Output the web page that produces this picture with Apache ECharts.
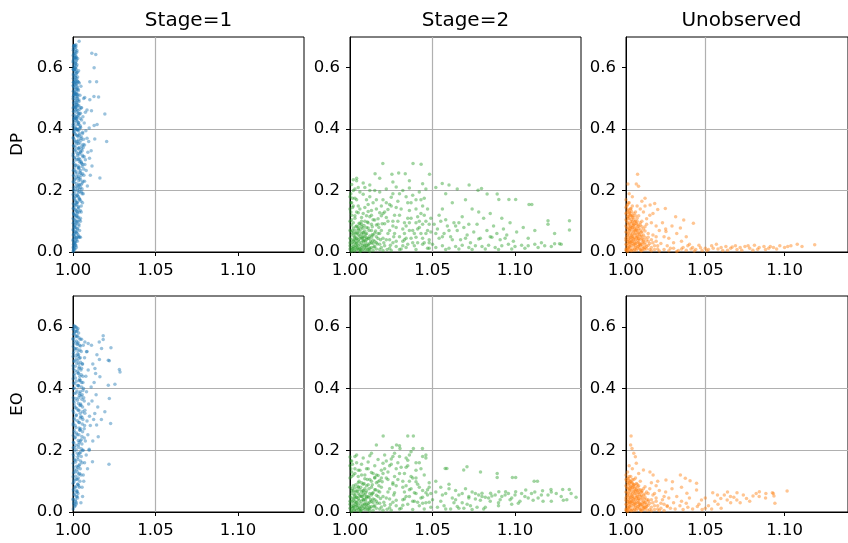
<!DOCTYPE html>
<html><head><meta charset="utf-8">
<script src="https://cdn.jsdelivr.net/npm/echarts@6/dist/echarts.min.js"></script>
<style>html,body{margin:0;padding:0;background:#fff}#c{width:848px;height:543px}</style>
</head><body><div id="c"></div>
<script>
const colTitles = ['Stage=1', 'Stage=2', 'Unobserved'];
const rowLabels = ['DP', 'EO'];
const xTicks = [1.00, 1.05, 1.10];
const yTicks = [0.0, 0.2, 0.4, 0.6];

const dpStage1 = [
[1.0003,0.004],[1.0008,0.010],[1.0002,0.016],[1.0012,0.022],[1.0005,0.028],[1.0015,0.034],[1.0001,0.040],[1.0020,0.046],[1.0035,0.048],[1.0040,0.049],[1.0045,0.048],[1.0010,0.052],[1.0006,0.058],[1.0018,0.064],[1.0003,0.070],[1.0025,0.076],[1.0009,0.082],[1.0014,0.088],[1.0002,0.094],[1.0022,0.100],[1.0007,0.106],[1.0030,0.112],[1.0011,0.118],[1.0004,0.124],[1.0026,0.130],[1.0016,0.136],[1.0001,0.142],[1.0033,0.148],[1.0008,0.154],[1.0020,0.160],[1.0013,0.166],[1.0038,0.172],[1.0005,0.178],[1.0024,0.184],[1.0010,0.190],[1.0042,0.196],[1.0002,0.202],[1.0029,0.208],[1.0017,0.214],[1.0050,0.220],[1.0007,0.226],[1.0035,0.232],[1.0012,0.238],[1.0023,0.244],[1.0003,0.250],[1.0046,0.256],[1.0019,0.262],[1.0009,0.268],[1.0031,0.274],[1.0055,0.278],[1.0014,0.282],[1.0004,0.288],[1.0039,0.294],[1.0021,0.300],[1.0008,0.306],[1.0060,0.310],[1.0027,0.314],[1.0002,0.320],[1.0044,0.326],[1.0015,0.332],[1.0033,0.338],[1.0006,0.344],[1.0070,0.348],[1.0022,0.352],[1.0010,0.358],[1.0048,0.364],[1.0003,0.370],[1.0030,0.376],[1.0016,0.382],[1.0058,0.386],[1.0007,0.392],[1.0025,0.398],[1.0040,0.404],[1.0012,0.410],[1.0002,0.416],[1.0034,0.422],[1.0019,0.428],[1.0006,0.434],[1.0028,0.440],[1.0011,0.446],[1.0045,0.452],[1.0003,0.458],[1.0022,0.464],[1.0014,0.470],[1.0036,0.476],[1.0005,0.482],[1.0018,0.488],[1.0027,0.494],[1.0009,0.500],[1.0002,0.506],[1.0030,0.512],[1.0013,0.518],[1.0006,0.524],[1.0024,0.530],[1.0010,0.536],[1.0003,0.542],[1.0020,0.548],[1.0032,0.553],[1.0008,0.560],[1.0015,0.568],[1.0002,0.576],[1.0022,0.584],[1.0007,0.592],[1.0012,0.598],[1.0004,0.606],[1.0016,0.614],[1.0001,0.622],[1.0010,0.630],[1.0020,0.636],[1.0005,0.644],[1.0013,0.652],[1.0003,0.662],[1.0008,0.672],[1.0018,0.675],
[1.0001,0.002],[1.0004,0.007],[1.0002,0.013],[1.0006,0.019],[1.0003,0.025],[1.0009,0.031],[1.0001,0.037],[1.0005,0.043],[1.0011,0.049],[1.0002,0.055],[1.0007,0.061],[1.0013,0.067],[1.0001,0.073],[1.0010,0.079],[1.0004,0.085],[1.0016,0.091],[1.0006,0.097],[1.0012,0.103],[1.0001,0.109],[1.0019,0.115],[1.0008,0.121],[1.0003,0.127],[1.0021,0.133],[1.0010,0.139],[1.0005,0.145],[1.0015,0.151],[1.0002,0.157],[1.0027,0.163],[1.0012,0.169],[1.0006,0.175],[1.0018,0.181],[1.0001,0.187],[1.0032,0.193],[1.0009,0.199],[1.0014,0.205],[1.0004,0.211],[1.0038,0.217],[1.0020,0.223],[1.0001,0.229],[1.0011,0.235],[1.0043,0.241],[1.0006,0.247],[1.0026,0.253],[1.0013,0.259],[1.0002,0.265],[1.0036,0.271],[1.0008,0.277],[1.0017,0.283],[1.0051,0.289],[1.0005,0.295],[1.0030,0.301],[1.0011,0.307],[1.0001,0.313],[1.0040,0.319],[1.0021,0.325],[1.0007,0.331],[1.0053,0.335],[1.0014,0.341],[1.0003,0.347],[1.0032,0.353],[1.0019,0.359],[1.0009,0.365],[1.0064,0.367],[1.0002,0.373],[1.0025,0.379],[1.0012,0.385],[1.0005,0.391],[1.0036,0.397],[1.0017,0.403],[1.0001,0.409],[1.0029,0.415],[1.0008,0.421],[1.0004,0.427],[1.0023,0.433],[1.0014,0.439],[1.0002,0.445],[1.0032,0.451],[1.0007,0.457],[1.0016,0.463],[1.0001,0.469],[1.0011,0.475],[1.0025,0.481],[1.0004,0.487],[1.0013,0.493],[1.0001,0.499],[1.0020,0.505],[1.0006,0.511],[1.0010,0.517],[1.0002,0.523],[1.0017,0.529],[1.0005,0.535],[1.0001,0.541],[1.0012,0.547],[1.0004,0.553],[1.0026,0.557],[1.0002,0.565],[1.0009,0.572],[1.0003,0.580],[1.0014,0.588],[1.0001,0.595],[1.0006,0.600],[1.0010,0.610],[1.0002,0.618],[1.0004,0.626],[1.0013,0.633],[1.0001,0.640],[1.0006,0.648],[1.0002,0.657],[1.0011,0.666],[1.0004,0.670],
[1.0005,0.672],[1.0012,0.672],[1.0005,0.632],[1.0012,0.633],[1.0020,0.632],[1.0004,0.594],[1.0011,0.594],[1.0019,0.595],[1.0003,0.553],[1.0010,0.553],[1.0017,0.554],[1.0004,0.512],[1.0011,0.512],[1.0018,0.513],[1.0025,0.512],[1.0006,0.472],[1.0014,0.472],[1.0021,0.473],[1.0005,0.435],[1.0013,0.436],[1.0020,0.435],[1.0008,0.400],[1.0015,0.401],[1.0024,0.400],
[1.0062,0.190],[1.0070,0.230],[1.0055,0.205],[1.0080,0.265],[1.0066,0.250],[1.0075,0.300],[1.0090,0.325],[1.0062,0.340],[1.0085,0.370],[1.0095,0.360],[1.0078,0.395],[1.0068,0.420],[1.0058,0.160],[1.0050,0.130],[1.0045,0.100],[1.0072,0.285],[1.0100,0.305],[1.0110,0.330],[1.0087,0.215],[1.0052,0.470],[1.0065,0.500],[1.0060,0.440],[1.0075,0.455],[1.0048,0.540],
[1.0037,0.686],[1.0114,0.647],[1.0138,0.643],[1.0128,0.600],[1.0102,0.554],[1.0143,0.554],[1.0071,0.503],[1.0102,0.496],[1.0127,0.506],[1.0155,0.505],[1.0085,0.462],[1.0112,0.460],[1.0193,0.449],[1.0098,0.404],[1.0128,0.412],[1.0146,0.415],[1.0132,0.368],[1.0204,0.360],[1.0163,0.241],[1.0115,0.280],[1.0105,0.250]
];
const dpStage1Core = [
[1.0012,0.01],[1.0018,0.02],[1.0010,0.03],[1.0022,0.04],[1.0030,0.05],[1.0025,0.06],[1.0040,0.07],[1.0015,0.08],[1.0035,0.09],[1.0028,0.10],[1.0045,0.11],[1.0020,0.12],[1.0038,0.13],[1.0030,0.14],[1.0050,0.15],[1.0025,0.16],[1.0042,0.17],[1.0033,0.18],[1.0055,0.19],[1.0028,0.20],[1.0046,0.21],[1.0036,0.22],[1.0060,0.23],[1.0030,0.24],[1.0050,0.25],[1.0040,0.26],[1.0065,0.27],[1.0032,0.28],[1.0052,0.29],[1.0042,0.30],[1.0068,0.31],[1.0030,0.32],[1.0055,0.33],[1.0038,0.34],[1.0062,0.35],[1.0028,0.36],[1.0048,0.37],[1.0036,0.38],[1.0058,0.39],[1.0025,0.40],[1.0045,0.41],[1.0032,0.42],[1.0052,0.43],[1.0022,0.44],[1.0040,0.45],[1.0030,0.46],[1.0048,0.47],[1.0020,0.48],[1.0036,0.49],[1.0026,0.50],[1.0042,0.51],[1.0018,0.52],[1.0032,0.53],[1.0024,0.54],[1.0038,0.55],[1.0016,0.56],[1.0028,0.57],[1.0020,0.58],[1.0034,0.59],[1.0014,0.60],[1.0024,0.61],[1.0018,0.62],[1.0028,0.63],[1.0012,0.64],[1.0022,0.65],[1.0016,0.66],
[1.0020,0.015],[1.0014,0.025],[1.0026,0.035],[1.0018,0.045],[1.0032,0.055],[1.0022,0.065],[1.0028,0.075],[1.0036,0.085],[1.0024,0.095],[1.0040,0.105],[1.0030,0.115],[1.0026,0.125],[1.0044,0.135],[1.0034,0.145],[1.0022,0.155],[1.0048,0.165],[1.0038,0.175],[1.0026,0.185],[1.0052,0.195],[1.0040,0.205],[1.0030,0.215],[1.0056,0.225],[1.0044,0.235],[1.0034,0.245],[1.0058,0.255],[1.0046,0.265],[1.0036,0.275],[1.0060,0.285],[1.0048,0.295],[1.0036,0.305],[1.0058,0.315],[1.0046,0.325],[1.0034,0.335],[1.0054,0.345],[1.0042,0.355],[1.0032,0.365],[1.0050,0.375],[1.0040,0.385],[1.0030,0.395],[1.0046,0.405],[1.0036,0.415],[1.0026,0.425],[1.0044,0.435],[1.0034,0.445],[1.0024,0.455],[1.0040,0.465],[1.0030,0.475],[1.0022,0.485],[1.0036,0.495],[1.0028,0.505],[1.0020,0.515],[1.0032,0.525],[1.0026,0.535],[1.0018,0.545],[1.0030,0.555],[1.0022,0.565],[1.0016,0.575],[1.0026,0.585],[1.0020,0.605],[1.0014,0.615],[1.0022,0.625],[1.0016,0.645],[1.0024,0.655],[1.0018,0.668]
];

const dpStage2 = [
[1.001,0.005],[1.002,0.012],[1.000,0.020],[1.003,0.003],[1.004,0.018],[1.001,0.030],[1.005,0.008],[1.006,0.025],[1.002,0.040],[1.007,0.015],[1.008,0.035],[1.003,0.050],[1.009,0.005],[1.010,0.022],[1.004,0.062],[1.011,0.045],[1.012,0.012],[1.005,0.072],[1.013,0.030],[1.014,0.055],[1.006,0.045],[1.015,0.018],[1.001,0.065],[1.007,0.058],[1.008,0.010],[1.009,0.068],[1.010,0.040],[1.011,0.078],[1.012,0.028],[1.002,0.078],[1.000,0.045],[1.003,0.032],[1.004,0.008],[1.005,0.038],[1.006,0.002],[1.007,0.030],[1.008,0.050],[1.009,0.020],[1.010,0.060],[1.011,0.008],[1.012,0.052],[1.013,0.070],[1.014,0.038],[1.015,0.062],[1.016,0.010],[1.017,0.044],[1.018,0.025],[1.019,0.070],[1.020,0.005],[1.002,0.025],[1.001,0.055],[1.000,0.010],[1.003,0.070],[1.004,0.042],[1.005,0.020],[1.006,0.065],[1.007,0.005],[1.008,0.078],[1.009,0.038],[1.010,0.014],[1.001,0.088],[1.002,0.095],[1.004,0.085],[1.006,0.092],[1.003,0.015],[1.005,0.055],[1.007,0.045],[1.012,0.002],[1.013,0.015],[1.014,0.005],[1.016,0.030],[1.018,0.008],[1.021,0.020],[1.022,0.040],[1.024,0.012],[1.026,0.030],[1.023,0.060],[1.025,0.005],[1.028,0.018],[1.030,0.008],[1.000,0.030],[1.000,0.070],[1.001,0.015],[1.002,0.060],[1.003,0.040],[1.004,0.028],[1.005,0.082],[1.006,0.012],[1.008,0.062],[1.009,0.050],[1.011,0.025],[1.013,0.048],[1.015,0.035],[1.017,0.060],[1.019,0.015],[1.020,0.045],
[1.000,0.100],[1.001,0.120],[1.000,0.140],[1.001,0.160],[1.000,0.180],[1.002,0.200],[1.001,0.220],[1.002,0.235],[1.004,0.232],[1.003,0.110],[1.004,0.130],[1.005,0.150],[1.003,0.175],[1.006,0.195],[1.005,0.210],[1.007,0.100],[1.008,0.125],[1.009,0.145],[1.010,0.170],[1.008,0.188],[1.011,0.095],[1.012,0.115],[1.013,0.135],[1.014,0.160],[1.012,0.180],[1.015,0.200],[1.016,0.088],[1.017,0.108],[1.018,0.128],[1.019,0.150],[1.020,0.170],[1.018,0.195],[1.021,0.092],[1.022,0.112],[1.023,0.138],[1.024,0.155],[1.025,0.178],[1.022,0.205],[1.026,0.100],[1.027,0.120],[1.028,0.145],[1.029,0.165],[1.030,0.190],[1.028,0.212],[1.006,0.140],[1.010,0.118],[1.014,0.105],[1.002,0.150],[1.009,0.210],[1.016,0.140],[1.004,0.170],[1.007,0.082],[1.011,0.155],[1.013,0.090],[1.019,0.118],[1.003,0.205],
[1.031,0.010],[1.032,0.035],[1.033,0.060],[1.034,0.085],[1.035,0.110],[1.036,0.135],[1.037,0.160],[1.038,0.185],[1.039,0.020],[1.040,0.048],[1.041,0.075],[1.042,0.100],[1.043,0.125],[1.044,0.150],[1.045,0.175],[1.046,0.205],[1.047,0.012],[1.048,0.040],[1.049,0.065],[1.035,0.025],[1.038,0.070],[1.041,0.115],[1.044,0.090],[1.047,0.140],[1.032,0.200],[1.036,0.208],[1.042,0.195],[1.030,0.050],[1.033,0.095],[1.045,0.030],[1.040,0.008],[1.043,0.060],[1.037,0.045],[1.034,0.015],[1.048,0.012],[1.046,0.100],
[1.051,0.090],[1.053,0.075],[1.055,0.100],[1.057,0.060],[1.059,0.085],[1.061,0.050],[1.063,0.095],[1.065,0.070],[1.067,0.040],[1.069,0.080],[1.071,0.055],[1.073,0.030],[1.075,0.065],[1.077,0.090],[1.079,0.045],[1.081,0.110],[1.083,0.070],[1.085,0.050],[1.087,0.085],[1.089,0.060],[1.091,0.040],[1.093,0.075],[1.095,0.055],[1.097,0.095],[1.099,0.035],[1.101,0.065],[1.105,0.080],[1.108,0.045],[1.112,0.070],[1.116,0.030],[1.120,0.102],[1.124,0.060],[1.127,0.027],[1.133,0.102],[1.133,0.072],[1.120,0.090],
[1.052,0.015],[1.056,0.020],[1.060,0.012],[1.064,0.018],[1.068,0.022],[1.072,0.015],[1.076,0.020],[1.080,0.018],[1.084,0.022],[1.088,0.015],[1.092,0.020],[1.096,0.025],[1.100,0.018],[1.104,0.022],[1.108,0.020],[1.112,0.025],[1.118,0.020],[1.124,0.027],[1.128,0.025],[1.054,0.045],[1.062,0.040],[1.070,0.045],[1.078,0.042],[1.086,0.048],[1.094,0.045],
[1.0797,0.207],[1.0776,0.201],[1.0831,0.189],[1.0892,0.189],[1.0902,0.171],[1.0963,0.171],[1.1004,0.171],[1.1085,0.155],[1.1102,0.155],[1.0559,0.223],[1.0600,0.218],[1.0722,0.218],[1.065,0.205],[1.052,0.210],[1.058,0.190],[1.070,0.170],[1.062,0.160],[1.074,0.140],[1.085,0.125],[1.068,0.115],[1.056,0.140],[1.092,0.110],[1.078,0.130],
[1.0199,0.288],[1.0382,0.288],[1.0431,0.286],[1.0152,0.255],[1.0254,0.253],[1.0295,0.257],[1.0335,0.255],[1.0482,0.253],[1.008,0.225],[1.012,0.218],[1.018,0.240],[1.026,0.228],[1.036,0.232],[1.044,0.222],[1.004,0.240]
];
const dpStage2Core = [
[1.0015,0.010],[1.0035,0.022],[1.0055,0.034],[1.0075,0.046],[1.0095,0.058],[1.0115,0.070],[1.0135,0.082],[1.0025,0.050],[1.0045,0.062],[1.0065,0.074],[1.0085,0.086],[1.0105,0.098],[1.0015,0.070],[1.0035,0.082],[1.0055,0.094],[1.0075,0.020],[1.0095,0.032],[1.0115,0.044],[1.0135,0.056],[1.0155,0.068],[1.0175,0.080],[1.0195,0.092],[1.0005,0.040],[1.0025,0.005],[1.0045,0.012],[1.0065,0.004],[1.0085,0.024],[1.0105,0.006],[1.0125,0.036],[1.0145,0.016],[1.0165,0.026],[1.0185,0.040],[1.0205,0.030],[1.0225,0.008],[1.0245,0.022],[1.0265,0.050],[1.0010,0.105],[1.0030,0.118],[1.0050,0.128],[1.0070,0.112],[1.0090,0.100],[1.0110,0.132],[1.0130,0.120],[1.0150,0.104],[1.0170,0.090],[1.0005,0.130],[1.0005,0.160],[1.0005,0.190],[1.0015,0.145],[1.0015,0.175],[1.0020,0.018],[1.0040,0.030],[1.0060,0.052],[1.0080,0.064],[1.0100,0.080],[1.0120,0.010],[1.0140,0.028],[1.0160,0.050],[1.0180,0.060],[1.0010,0.002],[1.0030,0.060],[1.0050,0.076],[1.0070,0.090],[1.0090,0.014],[1.0110,0.020],[1.0060,0.010],[1.0040,0.045],[1.0020,0.035],[1.0080,0.038],[1.0100,0.046]
];
const dpStage2Mid = [
[1.024,0.070],[1.026,0.085],[1.028,0.035],[1.030,0.120],[1.032,0.075],[1.034,0.045],[1.036,0.095],[1.038,0.030],[1.040,0.140],[1.042,0.080],[1.044,0.025],[1.046,0.060],[1.048,0.090],[1.021,0.130],[1.023,0.100],[1.025,0.150],[1.027,0.060],[1.029,0.100],[1.031,0.140],[1.033,0.040],[1.035,0.160],[1.037,0.110],[1.039,0.060],[1.041,0.030],[1.043,0.170],[1.045,0.120],[1.047,0.070],[1.049,0.110],[1.022,0.160],[1.026,0.190],[1.034,0.180],[1.040,0.170],[1.016,0.170],[1.012,0.200],[1.020,0.125],[1.024,0.040],[1.028,0.080],[1.032,0.020],[1.036,0.070],[1.040,0.095],[1.044,0.045],[1.048,0.030],[1.052,0.060],[1.056,0.050],[1.060,0.070],[1.064,0.085],[1.058,0.105],[1.066,0.095],[1.054,0.120],[1.072,0.090],[1.050,0.025],[1.058,0.008],[1.066,0.010],[1.074,0.008],[1.082,0.010],[1.090,0.008],[1.098,0.010],[1.106,0.012],[1.114,0.015],[1.122,0.018]
];

const dpUnobs = [
[1.000,0.005],[1.001,0.015],[1.000,0.025],[1.002,0.008],[1.001,0.035],[1.003,0.020],[1.000,0.045],[1.002,0.030],[1.004,0.010],[1.001,0.055],[1.003,0.042],[1.005,0.025],[1.000,0.065],[1.002,0.052],[1.004,0.035],[1.006,0.015],[1.001,0.075],[1.003,0.062],[1.005,0.048],[1.007,0.030],[1.000,0.085],[1.002,0.072],[1.004,0.058],[1.006,0.040],[1.008,0.020],[1.001,0.095],[1.003,0.082],[1.005,0.068],[1.007,0.050],[1.009,0.008],[1.000,0.105],[1.002,0.092],[1.004,0.078],[1.006,0.060],[1.008,0.042],[1.010,0.025],[1.001,0.115],[1.003,0.100],[1.005,0.088],[1.007,0.070],[1.009,0.052],[1.011,0.012],[1.000,0.125],[1.002,0.110],[1.004,0.098],[1.006,0.080],[1.008,0.062],[1.010,0.045],[1.012,0.030],[1.001,0.135],[1.003,0.120],[1.005,0.105],[1.007,0.090],[1.009,0.072],[1.011,0.055],[1.013,0.018],[1.000,0.145],[1.002,0.130],[1.004,0.115],[1.006,0.100],[1.008,0.085],[1.010,0.065],[1.012,0.048],[1.014,0.035],[1.001,0.155],[1.003,0.140],[1.005,0.125],[1.007,0.110],[1.009,0.095],[1.011,0.075],[1.015,0.008],[1.000,0.170],[1.002,0.160],[1.004,0.150],[1.006,0.130],[1.008,0.118],[1.010,0.100],[1.012,0.082],[1.014,0.060],[1.016,0.040],[1.018,0.020],[1.000,0.010],[1.001,0.002],[1.002,0.018],[1.003,0.005],[1.000,0.038],[1.001,0.028],[1.002,0.045],[1.003,0.032],[1.004,0.050],[1.005,0.005],[1.006,0.028],[1.007,0.012],[1.008,0.032],[1.009,0.022],[1.010,0.005],[1.011,0.035],[1.012,0.015],[1.013,0.040],[1.014,0.022],[1.016,0.015],[1.017,0.055],[1.019,0.035],[1.020,0.010],[1.022,0.028],[1.024,0.050],[1.021,0.070],[1.019,0.085],[1.016,0.095],[1.015,0.120],[1.013,0.108],[1.011,0.130],[1.009,0.140],[1.007,0.150],[1.012,0.150],[1.017,0.125],[1.023,0.095],[1.026,0.020],[1.028,0.012],[1.025,0.075],[1.027,0.045],[1.030,0.030],[1.032,0.060],[1.029,0.085],
[1.0073,0.253],[1.0065,0.221],[1.0079,0.214],[1.0012,0.221],[1.002,0.190],[1.004,0.180],[1.0248,0.142],[1.0313,0.115],[1.0364,0.104],[1.0425,0.094],[1.0343,0.078],[1.0252,0.067],[1.0181,0.158],[1.0152,0.153],[1.012,0.175],[1.010,0.165],[1.020,0.138],[1.038,0.050],[1.035,0.035],[1.040,0.025],
[1.039,0.020],[1.042,0.015],[1.046,0.022],[1.050,0.012],[1.054,0.020],[1.057,0.025],[1.060,0.015],[1.063,0.018],[1.066,0.012],[1.069,0.020],[1.072,0.015],[1.075,0.018],[1.078,0.012],[1.081,0.022],[1.084,0.015],[1.087,0.018],[1.090,0.012],[1.093,0.015],[1.097,0.020],[1.100,0.015],[1.104,0.020],[1.108,0.025],[1.111,0.018],[1.119,0.024],[1.044,0.008],[1.048,0.005],[1.052,0.008],[1.058,0.010],[1.064,0.006],[1.070,0.008],[1.080,0.006],[1.088,0.008],[1.035,0.010],[1.033,0.005]
];
const dpUnobsCore = [
[1.0005,0.008],[1.0015,0.012],[1.0025,0.016],[1.0035,0.004],[1.0045,0.020],[1.0055,0.010],[1.0065,0.006],[1.0075,0.018],[1.0085,0.012],[1.0095,0.004],[1.0105,0.016],[1.0115,0.008],[1.0005,0.022],[1.0015,0.040],[1.0025,0.026],[1.0035,0.036],[1.0045,0.044],[1.0055,0.032],[1.0065,0.046],[1.0075,0.038],[1.0085,0.028],[1.0095,0.040],[1.0105,0.030],[1.0005,0.050],[1.0015,0.060],[1.0025,0.070],[1.0035,0.054],[1.0045,0.066],[1.0055,0.058],[1.0065,0.072],[1.0075,0.062],[1.0085,0.056],[1.0095,0.064],[1.0005,0.080],[1.0015,0.090],[1.0025,0.084],[1.0035,0.094],[1.0045,0.086],[1.0055,0.076],[1.0065,0.092],[1.0075,0.082],[1.0005,0.100],[1.0015,0.108],[1.0025,0.118],[1.0035,0.106],[1.0045,0.112],[1.0055,0.098],[1.0005,0.128],[1.0015,0.138],[1.0025,0.128],[1.0035,0.132],[1.0005,0.150],[1.0015,0.160],[1.0010,0.003],[1.0020,0.034],[1.0030,0.048],[1.0040,0.028],[1.0050,0.040],[1.0060,0.022],[1.0070,0.052],[1.0080,0.044],[1.0090,0.024],[1.0100,0.052],[1.0110,0.040],[1.0120,0.024],[1.0130,0.010],[1.0140,0.048],[1.0150,0.028],[1.0160,0.004],[1.0170,0.030],[1.0180,0.008],[1.0190,0.050],[1.0200,0.020],[1.0010,0.064],[1.0020,0.078],[1.0030,0.074],[1.0040,0.080],[1.0050,0.090],[1.0060,0.070],[1.0070,0.100],[1.0080,0.076],[1.0090,0.088],[1.0100,0.082],[1.0120,0.068],[1.0130,0.090],[1.0010,0.116],[1.0020,0.124],[1.0030,0.142],[1.0040,0.120],[1.0060,0.118]
];
const dpUnobsTail = [
[1.021,0.003],[1.024,0.008],[1.027,0.004],[1.030,0.012],[1.032,0.002],[1.036,0.015],[1.038,0.006],[1.041,0.010],[1.043,0.003],[1.047,0.014],[1.051,0.004],[1.055,0.012],[1.061,0.005],[1.067,0.016],[1.073,0.006],[1.077,0.020],[1.083,0.009],[1.091,0.018],[1.095,0.010],[1.102,0.018]
];

const eoStage1 = [
[1.0002,0.010],[1.0010,0.018],[1.0004,0.026],[1.0015,0.034],[1.0001,0.042],[1.0020,0.050],[1.0007,0.058],[1.0026,0.066],[1.0003,0.074],[1.0014,0.082],[1.0030,0.090],[1.0006,0.098],[1.0018,0.106],[1.0001,0.114],[1.0035,0.122],[1.0011,0.130],[1.0024,0.138],[1.0004,0.146],[1.0040,0.154],[1.0016,0.162],[1.0008,0.170],[1.0029,0.178],[1.0002,0.186],[1.0045,0.194],[1.0019,0.202],[1.0009,0.210],[1.0033,0.218],[1.0003,0.226],[1.0050,0.234],[1.0013,0.242],[1.0025,0.250],[1.0006,0.258],[1.0042,0.266],[1.0017,0.274],[1.0001,0.282],[1.0036,0.290],[1.0010,0.298],[1.0055,0.306],[1.0021,0.314],[1.0004,0.322],[1.0031,0.330],[1.0014,0.338],[1.0048,0.346],[1.0007,0.354],[1.0026,0.362],[1.0002,0.370],[1.0039,0.378],[1.0018,0.386],[1.0060,0.394],[1.0009,0.402],[1.0028,0.410],[1.0003,0.418],[1.0044,0.426],[1.0015,0.434],[1.0006,0.442],[1.0034,0.450],[1.0012,0.458],[1.0052,0.466],[1.0001,0.474],[1.0023,0.482],[1.0008,0.490],[1.0038,0.498],[1.0016,0.506],[1.0003,0.514],[1.0030,0.522],[1.0010,0.530],[1.0045,0.538],[1.0005,0.546],[1.0020,0.554],[1.0001,0.562],[1.0027,0.570],[1.0008,0.578],[1.0015,0.586],[1.0003,0.594],[1.0010,0.600],[1.0020,0.598],
[1.0005,0.030],[1.0001,0.040],[1.0008,0.055],[1.0003,0.068],[1.0012,0.080],[1.0001,0.093],[1.0006,0.104],[1.0016,0.116],[1.0003,0.126],[1.0009,0.136],[1.0022,0.148],[1.0002,0.158],[1.0012,0.168],[1.0005,0.180],[1.0026,0.190],[1.0008,0.198],[1.0001,0.208],[1.0017,0.216],[1.0004,0.224],[1.0032,0.232],[1.0011,0.240],[1.0002,0.248],[1.0021,0.256],[1.0007,0.264],[1.0037,0.272],[1.0013,0.280],[1.0003,0.288],[1.0027,0.296],[1.0006,0.304],[1.0018,0.312],[1.0043,0.320],[1.0001,0.328],[1.0022,0.336],[1.0009,0.344],[1.0033,0.352],[1.0004,0.360],[1.0016,0.368],[1.0049,0.376],[1.0007,0.384],[1.0024,0.392],[1.0002,0.400],[1.0035,0.408],[1.0011,0.416],[1.0020,0.424],[1.0001,0.432],[1.0041,0.440],[1.0008,0.448],[1.0027,0.456],[1.0003,0.464],[1.0014,0.472],[1.0036,0.480],[1.0006,0.488],[1.0019,0.496],[1.0001,0.504],[1.0028,0.512],[1.0005,0.520],[1.0013,0.528],[1.0002,0.536],[1.0024,0.544],[1.0007,0.552],[1.0001,0.560],[1.0017,0.568],[1.0004,0.576],[1.0011,0.584],[1.0002,0.592],[1.0006,0.604],
[1.0055,0.080],[1.0062,0.120],[1.0070,0.160],[1.0058,0.200],[1.0080,0.185],[1.0075,0.230],[1.0090,0.250],[1.0068,0.270],[1.0085,0.295],[1.0100,0.310],[1.0072,0.330],[1.0095,0.350],[1.0065,0.370],[1.0082,0.390],[1.0110,0.405],[1.0060,0.420],[1.0078,0.440],[1.0092,0.460],[1.0058,0.480],[1.0070,0.500],[1.0085,0.520],[1.0062,0.540],[1.0052,0.560],[1.0105,0.280],[1.0120,0.230],[1.0115,0.360],[1.0098,0.200],[1.0088,0.140],[1.0125,0.300],[1.0065,0.100],[1.0058,0.050],[1.0048,0.030],
[1.0159,0.551],[1.0183,0.559],[1.0183,0.571],[1.0173,0.530],[1.0230,0.532],[1.0072,0.551],[1.0092,0.546],[1.0112,0.540],[1.0082,0.519],[1.0160,0.494],[1.0214,0.492],[1.0220,0.490],[1.0281,0.462],[1.0285,0.454],[1.0133,0.465],[1.0137,0.449],[1.0163,0.438],[1.0254,0.414],[1.0214,0.411],[1.0220,0.368],[1.0193,0.325],[1.0132,0.319],[1.0228,0.287],[1.0143,0.282],[1.0153,0.244],[1.0218,0.155],[1.0098,0.203],[1.0118,0.163],[1.0140,0.380],[1.0150,0.340],[1.0128,0.420],[1.0172,0.300],[1.0120,0.480],[1.0145,0.510]
];
const eoStage1Core = [
[1.0012,0.02],[1.0020,0.03],[1.0015,0.04],[1.0025,0.05],[1.0030,0.06],[1.0022,0.07],[1.0038,0.08],[1.0028,0.09],[1.0042,0.10],[1.0032,0.11],[1.0048,0.12],[1.0026,0.13],[1.0044,0.14],[1.0036,0.15],[1.0055,0.16],[1.0030,0.17],[1.0050,0.18],[1.0040,0.19],[1.0062,0.20],[1.0034,0.21],[1.0054,0.22],[1.0044,0.23],[1.0068,0.24],[1.0036,0.25],[1.0058,0.26],[1.0046,0.27],[1.0070,0.28],[1.0038,0.29],[1.0060,0.30],[1.0048,0.31],[1.0072,0.32],[1.0036,0.33],[1.0058,0.34],[1.0046,0.35],[1.0068,0.36],[1.0034,0.37],[1.0056,0.38],[1.0044,0.39],[1.0064,0.40],[1.0032,0.41],[1.0052,0.42],[1.0040,0.43],[1.0060,0.44],[1.0030,0.45],[1.0048,0.46],[1.0038,0.47],[1.0056,0.48],[1.0028,0.49],[1.0044,0.50],[1.0034,0.51],[1.0050,0.52],[1.0024,0.53],[1.0040,0.54],[1.0030,0.55],[1.0044,0.56],[1.0020,0.57],[1.0034,0.58],[1.0026,0.59],[1.0016,0.60],
[1.0018,0.025],[1.0028,0.045],[1.0022,0.065],[1.0034,0.085],[1.0026,0.105],[1.0040,0.125],[1.0030,0.145],[1.0046,0.165],[1.0034,0.185],[1.0050,0.205],[1.0038,0.225],[1.0054,0.245],[1.0042,0.265],[1.0056,0.285],[1.0044,0.305],[1.0058,0.325],[1.0042,0.345],[1.0054,0.365],[1.0040,0.385],[1.0052,0.405],[1.0038,0.425],[1.0050,0.445],[1.0036,0.465],[1.0046,0.485],[1.0032,0.505],[1.0042,0.525],[1.0028,0.545],[1.0036,0.565],[1.0022,0.585],[1.0030,0.595]
];

const eoStage2 = [
[1.001,0.005],[1.002,0.015],[1.000,0.025],[1.003,0.008],[1.004,0.020],[1.001,0.035],[1.005,0.010],[1.006,0.028],[1.002,0.045],[1.007,0.018],[1.008,0.040],[1.003,0.055],[1.009,0.008],[1.010,0.025],[1.004,0.068],[1.011,0.050],[1.012,0.015],[1.005,0.080],[1.013,0.035],[1.014,0.062],[1.006,0.050],[1.015,0.020],[1.001,0.070],[1.007,0.065],[1.008,0.012],[1.009,0.075],[1.010,0.045],[1.011,0.088],[1.012,0.032],[1.002,0.085],[1.000,0.050],[1.003,0.035],[1.004,0.005],[1.005,0.042],[1.006,0.003],[1.007,0.035],[1.008,0.058],[1.009,0.025],[1.010,0.068],[1.011,0.010],[1.012,0.060],[1.013,0.080],[1.014,0.042],[1.015,0.072],[1.016,0.012],[1.017,0.050],[1.018,0.028],[1.019,0.080],[1.020,0.006],[1.002,0.028],[1.001,0.060],[1.000,0.012],[1.003,0.078],[1.004,0.048],[1.005,0.022],[1.006,0.072],[1.007,0.006],[1.008,0.090],[1.009,0.042],[1.010,0.016],[1.013,0.100],[1.015,0.110],[1.016,0.095],[1.017,0.118],[1.014,0.125],[1.012,0.105],[1.018,0.102],[1.003,0.018],[1.005,0.060],[1.007,0.050],[1.012,0.003],[1.013,0.018],[1.014,0.006],[1.016,0.035],[1.018,0.010],[1.021,0.022],[1.022,0.045],[1.024,0.014],[1.026,0.032],[1.023,0.065],[1.025,0.006],[1.028,0.020],[1.030,0.010],[1.000,0.035],[1.000,0.080],[1.001,0.018],[1.002,0.068],[1.003,0.045],[1.004,0.030],[1.005,0.095],[1.006,0.014],[1.008,0.070],[1.009,0.055],[1.011,0.028],[1.013,0.055],[1.015,0.040],[1.017,0.068],[1.019,0.016],[1.020,0.050],
[1.000,0.110],[1.001,0.130],[1.000,0.150],[1.001,0.165],[1.000,0.178],[1.002,0.120],[1.003,0.140],[1.004,0.160],[1.003,0.180],[1.005,0.115],[1.006,0.135],[1.007,0.155],[1.008,0.175],[1.009,0.120],[1.010,0.140],[1.011,0.162],[1.012,0.182],[1.015,0.150],[1.017,0.170],[1.019,0.135],[1.020,0.158],[1.021,0.185],[1.022,0.110],[1.023,0.130],[1.024,0.150],[1.025,0.172],[1.026,0.095],[1.027,0.115],[1.028,0.140],[1.029,0.160],[1.030,0.180],[1.032,0.100],[1.033,0.125],[1.034,0.145],[1.035,0.168],[1.036,0.185],[1.038,0.110],[1.040,0.135],[1.042,0.160],[1.044,0.180],[1.046,0.175],[1.046,0.185],[1.030,0.215],
[1.031,0.012],[1.032,0.040],[1.033,0.065],[1.034,0.085],[1.035,0.025],[1.036,0.050],[1.037,0.075],[1.038,0.008],[1.039,0.035],[1.040,0.060],[1.041,0.090],[1.042,0.020],[1.043,0.045],[1.044,0.070],[1.045,0.010],[1.046,0.030],[1.047,0.055],[1.048,0.080],[1.049,0.015],[1.050,0.040],
[1.0577,0.141],[1.0587,0.141],[1.0689,0.136],[1.0709,0.147],[1.0791,0.130],[1.0892,0.125],[1.0892,0.112],[1.0984,0.112],[1.1004,0.112],[1.1116,0.100],[1.1136,0.100],[1.1167,0.069],[1.1218,0.073],[1.1289,0.073],[1.1329,0.073],[1.1065,0.071],[1.1004,0.066],[1.0943,0.066],[1.0902,0.066],[1.0852,0.061],[1.0800,0.061],[1.1293,0.038],[1.1314,0.040],[1.1220,0.035],[1.1170,0.035],[1.1110,0.038],[1.1030,0.035],[1.0970,0.040],[1.0910,0.040],[1.0850,0.035],[1.0790,0.038],[1.052,0.100],[1.055,0.080],[1.058,0.060],[1.060,0.090],[1.062,0.045],[1.064,0.070],[1.066,0.055],[1.068,0.030],[1.070,0.075],[1.072,0.050],[1.074,0.065],[1.076,0.042],[1.078,0.055],[1.082,0.048],[1.086,0.052],[1.090,0.030],[1.094,0.055],[1.098,0.045],[1.102,0.028],[1.106,0.050],[1.110,0.060],[1.114,0.045],[1.120,0.055],[1.125,0.060],[1.137,0.048],[1.053,0.015],[1.057,0.020],[1.061,0.010],[1.065,0.018],[1.069,0.012],[1.073,0.020],[1.077,0.015],[1.081,0.010],[1.055,0.035],[1.063,0.030],[1.071,0.025],
[1.0201,0.246],[1.0350,0.246],[1.0384,0.246],[1.016,0.217],[1.0256,0.209],[1.0282,0.217],[1.0303,0.206],[1.0384,0.206],[1.0439,0.206],[1.004,0.185],[1.013,0.190],[1.027,0.190],[1.037,0.195]
];
const eoStage2Core = [
[1.0015,0.012],[1.0035,0.025],[1.0055,0.038],[1.0075,0.050],[1.0095,0.062],[1.0115,0.075],[1.0135,0.088],[1.0025,0.055],[1.0045,0.068],[1.0065,0.080],[1.0085,0.092],[1.0105,0.105],[1.0015,0.075],[1.0035,0.088],[1.0055,0.100],[1.0075,0.022],[1.0095,0.035],[1.0115,0.048],[1.0135,0.060],[1.0155,0.072],[1.0175,0.085],[1.0195,0.098],[1.0005,0.045],[1.0025,0.006],[1.0045,0.014],[1.0065,0.004],[1.0085,0.026],[1.0105,0.007],[1.0125,0.040],[1.0145,0.018],[1.0165,0.028],[1.0185,0.044],[1.0205,0.032],[1.0225,0.009],[1.0245,0.024],[1.0265,0.055],[1.0010,0.115],[1.0030,0.125],[1.0050,0.135],[1.0070,0.120],[1.0090,0.108],[1.0110,0.140],[1.0130,0.128],[1.0150,0.112],[1.0170,0.098],[1.0005,0.140],[1.0005,0.165],[1.0015,0.155],[1.0020,0.020],[1.0040,0.032],[1.0060,0.055],[1.0080,0.068],[1.0100,0.085],[1.0120,0.011],[1.0140,0.030],[1.0160,0.054],[1.0180,0.065],[1.0010,0.002],[1.0030,0.065],[1.0050,0.082],[1.0070,0.095],[1.0090,0.015],[1.0110,0.022],[1.0060,0.011],[1.0040,0.048],[1.0020,0.038],[1.0080,0.040],[1.0100,0.050],[1.0160,0.120],[1.0190,0.110]
];
const eoStage2Mid = [
[1.024,0.075],[1.026,0.090],[1.028,0.038],[1.030,0.125],[1.032,0.080],[1.034,0.050],[1.036,0.100],[1.038,0.035],[1.040,0.110],[1.042,0.080],[1.044,0.028],[1.046,0.062],[1.048,0.095],[1.021,0.140],[1.023,0.105],[1.025,0.155],[1.027,0.062],[1.029,0.105],[1.031,0.145],[1.033,0.042],[1.035,0.150],[1.037,0.115],[1.039,0.062],[1.041,0.032],[1.043,0.140],[1.045,0.120],[1.047,0.072],[1.049,0.060],[1.022,0.165],[1.026,0.180],[1.034,0.175],[1.040,0.160],[1.020,0.125],[1.024,0.042],[1.028,0.085],[1.032,0.022],[1.036,0.072],[1.040,0.098],[1.044,0.048],[1.048,0.032],[1.052,0.065],[1.056,0.055],[1.060,0.075],[1.064,0.040],[1.068,0.060],[1.072,0.045],[1.076,0.060],[1.080,0.050],[1.084,0.045],[1.088,0.055],[1.092,0.050],[1.096,0.060],[1.100,0.055],[1.104,0.060],[1.108,0.045],[1.112,0.065],[1.116,0.055],[1.122,0.065],[1.128,0.050],[1.134,0.060],[1.058,0.010],[1.066,0.012],[1.074,0.008],[1.082,0.015],[1.090,0.020],[1.098,0.025]
];

const eoUnobs = [
[1.000,0.005],[1.001,0.015],[1.000,0.025],[1.002,0.008],[1.001,0.035],[1.003,0.020],[1.000,0.045],[1.002,0.030],[1.004,0.010],[1.001,0.055],[1.003,0.042],[1.005,0.025],[1.000,0.065],[1.002,0.052],[1.004,0.035],[1.006,0.015],[1.001,0.075],[1.003,0.062],[1.005,0.048],[1.007,0.030],[1.000,0.085],[1.002,0.072],[1.004,0.058],[1.006,0.040],[1.008,0.020],[1.001,0.095],[1.003,0.082],[1.005,0.068],[1.007,0.050],[1.009,0.008],[1.000,0.105],[1.002,0.092],[1.004,0.078],[1.006,0.060],[1.008,0.042],[1.010,0.025],[1.001,0.110],[1.003,0.100],[1.005,0.088],[1.007,0.070],[1.009,0.052],[1.011,0.012],[1.002,0.102],[1.004,0.095],[1.006,0.080],[1.008,0.062],[1.010,0.045],[1.012,0.030],[1.005,0.105],[1.007,0.090],[1.009,0.072],[1.011,0.055],[1.013,0.018],[1.008,0.085],[1.010,0.065],[1.012,0.048],[1.014,0.035],[1.011,0.075],[1.015,0.008],[1.012,0.082],[1.014,0.060],[1.016,0.040],[1.018,0.020],[1.000,0.010],[1.001,0.002],[1.002,0.018],[1.003,0.005],[1.000,0.038],[1.001,0.028],[1.002,0.045],[1.003,0.032],[1.004,0.050],[1.005,0.005],[1.006,0.028],[1.007,0.012],[1.008,0.032],[1.009,0.022],[1.010,0.005],[1.011,0.035],[1.012,0.015],[1.013,0.040],[1.014,0.022],[1.016,0.015],[1.017,0.055],[1.019,0.035],[1.020,0.010],[1.022,0.028],[1.024,0.050],[1.021,0.070],[1.019,0.085],[1.016,0.095],[1.015,0.075],[1.013,0.065],[1.018,0.060],[1.023,0.040],[1.026,0.020],[1.028,0.012],[1.025,0.065],[1.027,0.045],[1.030,0.030],[1.032,0.050],[1.029,0.075],[1.021,0.005],[1.024,0.025],[1.031,0.010],[1.034,0.020],[1.036,0.008],[1.039,0.015],[1.042,0.010],[1.045,0.018],[1.048,0.008],[1.035,0.035],[1.038,0.028],[1.000,0.120],[1.001,0.130],[1.003,0.115],[1.006,0.110],[1.009,0.100],
[1.0032,0.246],[1.0029,0.217],[1.0038,0.206],[1.0049,0.190],[1.0059,0.179],[1.0065,0.158],[1.011,0.136],[1.0151,0.130],[1.0171,0.120],[1.0252,0.104],[1.0293,0.098],[1.0343,0.120],[1.0374,0.109],[1.0404,0.101],[1.0445,0.093],[1.0384,0.061],[1.0445,0.071],[1.0476,0.039],[1.002,0.150],[1.004,0.140],[1.008,0.125],[1.020,0.100],[1.035,0.080],[1.040,0.045],
[1.0547,0.062],[1.0577,0.055],[1.0598,0.044],[1.0638,0.039],[1.0659,0.050],[1.0699,0.039],[1.0760,0.044],[1.0801,0.052],[1.0821,0.060],[1.0841,0.066],[1.0882,0.060],[1.0923,0.062],[1.0933,0.052],[1.1016,0.068],[1.0939,0.028],[1.0929,0.060],[1.088,0.045],[1.084,0.050],[1.078,0.035],[1.072,0.030],[1.068,0.048],[1.062,0.055],[1.056,0.035],[1.052,0.020],[1.050,0.045],[1.058,0.025],[1.066,0.030],[1.074,0.055],[1.070,0.062],[1.064,0.065],[1.054,0.010],[1.050,0.012],[1.046,0.025],[1.060,0.012]
];
const eoUnobsCore = [
[1.0005,0.008],[1.0015,0.012],[1.0025,0.016],[1.0035,0.004],[1.0045,0.020],[1.0055,0.010],[1.0065,0.006],[1.0075,0.018],[1.0085,0.012],[1.0095,0.004],[1.0105,0.016],[1.0115,0.008],[1.0125,0.014],[1.0135,0.006],[1.0005,0.022],[1.0015,0.040],[1.0025,0.026],[1.0035,0.036],[1.0045,0.044],[1.0055,0.032],[1.0065,0.046],[1.0075,0.038],[1.0085,0.028],[1.0095,0.040],[1.0105,0.030],[1.0115,0.042],[1.0005,0.050],[1.0015,0.060],[1.0025,0.070],[1.0035,0.054],[1.0045,0.066],[1.0055,0.058],[1.0065,0.072],[1.0075,0.062],[1.0085,0.056],[1.0095,0.064],[1.0005,0.080],[1.0015,0.090],[1.0025,0.084],[1.0035,0.094],[1.0045,0.086],[1.0055,0.076],[1.0065,0.092],[1.0075,0.082],[1.0005,0.100],[1.0015,0.108],[1.0025,0.098],[1.0010,0.003],[1.0020,0.034],[1.0030,0.048],[1.0040,0.028],[1.0050,0.040],[1.0060,0.022],[1.0070,0.052],[1.0080,0.044],[1.0090,0.024],[1.0100,0.052],[1.0110,0.020],[1.0120,0.030],[1.0130,0.024],[1.0140,0.040],[1.0150,0.028],[1.0160,0.004],[1.0170,0.030],[1.0180,0.008],[1.0190,0.045],[1.0200,0.020],[1.0220,0.012],[1.0240,0.005],[1.0260,0.018],[1.0010,0.064],[1.0020,0.078],[1.0030,0.074],[1.0040,0.080],[1.0050,0.088],[1.0060,0.068],[1.0080,0.072],[1.0100,0.070],[1.0120,0.058],[1.0020,0.115],[1.0040,0.105]
];

const panels = [
  dpStage1.concat(dpStage1Core),
  dpStage2.concat(dpStage2Core, dpStage2Mid),
  dpUnobs.concat(dpUnobsCore, dpUnobsTail),
  eoStage1.concat(eoStage1Core),
  eoStage2.concat(eoStage2Core, eoStage2Mid),
  eoUnobs.concat(eoUnobsCore)
];
const colColors = ['#1f77b4', '#2ca02c', '#ff7f0e'];

const FONT = 'DejaVu Sans';
const lefts = [73, 350, 626];
const W = 231;
const tops = [37, 296];
const heights = [215, 216];

const grids = [], xAxes = [], yAxes = [], series = [];
for (let r = 0; r < 2; r++) {
  for (let c = 0; c < 3; c++) {
    const i = r * 3 + c;
    grids.push({left: lefts[c], top: tops[r], width: W, height: heights[r], show: true,
      borderColor: '#000', borderWidth: 1, backgroundColor: 'transparent', containLabel: false});
    xAxes.push({type: 'value', gridIndex: i, min: 1.0, max: 1.14, interval: 0.05,
      axisLine: {show: true, onZero: false, lineStyle: {color: '#000', width: 1}},
      axisTick: {show: true, length: 4, inside: false, lineStyle: {color: '#000', width: 1}, customValues: xTicks},
      axisLabel: {color: '#000', fontSize: 16.5, fontFamily: FONT, margin: 10, customValues: xTicks,
        formatter: v => v.toFixed(2)},
      splitLine: {show: true, showMinLine: false, showMaxLine: false, lineStyle: {color: '#b0b0b0', width: 1.2}}
    });
    yAxes.push({type: 'value', gridIndex: i, min: 0, max: 0.7, interval: 0.2,
      name: c === 0 ? rowLabels[r] : '', nameLocation: 'middle', nameGap: 47, nameRotate: 90,
      nameTextStyle: {color: '#000', fontSize: 16.5, fontFamily: FONT},
      axisLine: {show: true, onZero: false, lineStyle: {color: '#000', width: 1}},
      axisTick: {show: true, length: 4, inside: false, lineStyle: {color: '#000', width: 1}, customValues: yTicks},
      axisLabel: {color: '#000', fontSize: 16.5, fontFamily: FONT, margin: 10, customValues: yTicks,
        formatter: v => v.toFixed(1)},
      splitLine: {show: true, showMinLine: false, showMaxLine: false, lineStyle: {color: '#b0b0b0', width: 1.2}}
    });
    series.push({type: 'scatter', xAxisIndex: i, yAxisIndex: i, data: panels[i],
      symbol: 'circle', symbolSize: 3.5, silent: true, animation: false, z: 3,
      itemStyle: {color: colColors[c], opacity: 0.45}});
  }
}

const graphics = colTitles.map((t, c) => ({type: 'text', x: lefts[c] + W / 2, y: 21,
  style: {text: t, align: 'center', verticalAlign: 'middle', fontSize: 20, fontFamily: FONT, fill: '#000'}}));

const chart = echarts.init(document.getElementById('c'), null, {renderer: 'canvas'});
chart.setOption({animation: false, backgroundColor: '#fff', grid: grids, xAxis: xAxes, yAxis: yAxes,
  series: series, graphic: graphics});
</script></body></html>
